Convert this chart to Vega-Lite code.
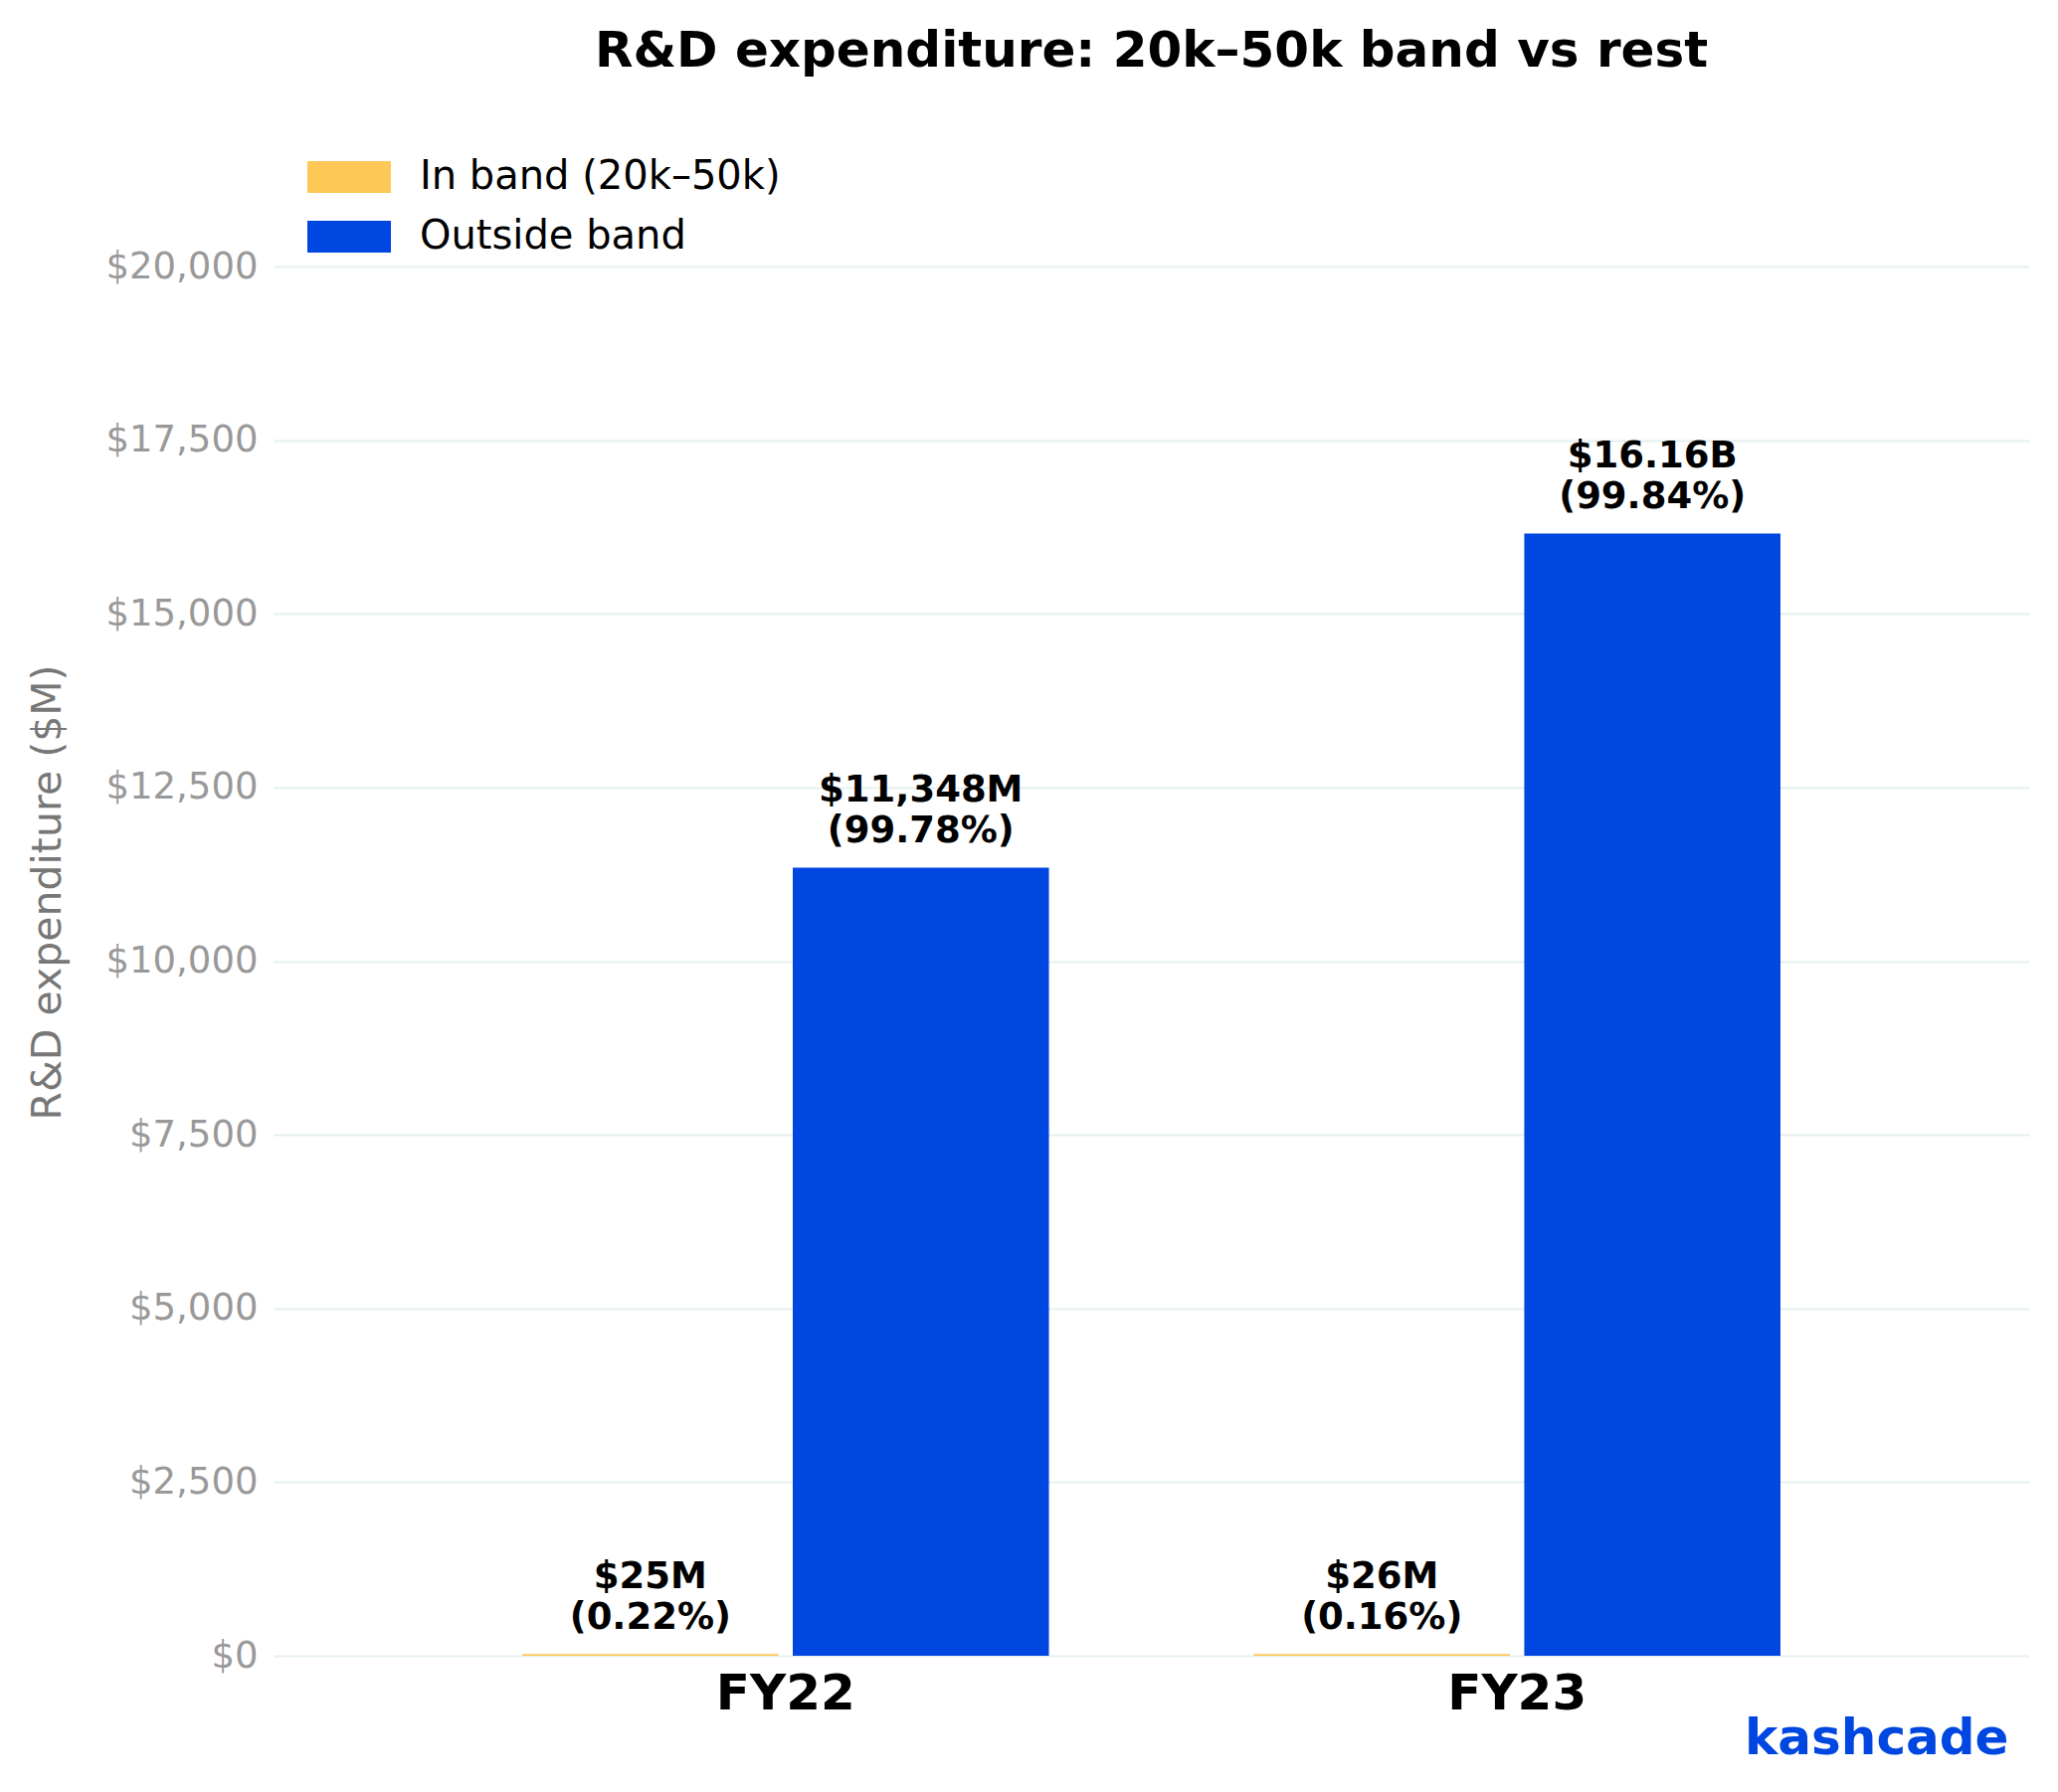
{
  "$schema": "https://vega.github.io/schema/vega-lite/v6.json",
  "width": 1765,
  "height": 1536,
  "autosize": {"type": "none"},
  "padding": {"left": 275, "top": 129, "right": 29, "bottom": 137},
  "background": "white",
  "title": {
    "text": "R&D expenditure: 20k–50k band vs rest",
    "fontSize": 50,
    "fontWeight": "bold",
    "color": "black",
    "anchor": "middle",
    "baseline": "alphabetic",
    "offset": 12
  },
  "data": {
    "values": [
      {"year": "FY22", "band": "In band (20k–50k)", "value": 25, "label": "$25M\n(0.22%)"},
      {"year": "FY22", "band": "Outside band", "value": 11348, "label": "$11,348M\n(99.78%)"},
      {"year": "FY23", "band": "In band (20k–50k)", "value": 26, "label": "$26M\n(0.16%)"},
      {"year": "FY23", "band": "Outside band", "value": 16160, "label": "$16.16B\n(99.84%)"}
    ]
  },
  "encoding": {
    "x": {
      "field": "year",
      "type": "nominal",
      "scale": {"paddingInner": 0.28, "paddingOuter": 0.34},
      "axis": {
        "labelAngle": 0,
        "labelFontSize": 50,
        "labelFontWeight": "bold",
        "labelColor": "black",
        "labelPadding": 13,
        "domain": false,
        "ticks": false,
        "tickSize": 0,
        "title": "kashcade",
        "titleFontSize": 50,
        "titleFontWeight": "bold",
        "titleColor": "#0046E0",
        "titleAlign": "right",
        "titleBaseline": "alphabetic",
        "titleX": 1744,
        "titleY": 98
      }
    },
    "xOffset": {
      "field": "band",
      "type": "nominal",
      "sort": ["In band (20k–50k)", "Outside band"],
      "scale": {"paddingInner": 0.053, "paddingOuter": 0}
    },
    "y": {
      "field": "value",
      "type": "quantitative",
      "scale": {"domain": [0, 21993], "nice": false},
      "axis": {
        "values": [0, 2500, 5000, 7500, 10000, 12500, 15000, 17500, 20000],
        "format": "$,.0f",
        "labelFontSize": 37,
        "labelColor": "#999999",
        "labelPadding": 16,
        "domain": false,
        "ticks": false,
        "tickSize": 0,
        "gridColor": "#E6EFF0",
        "gridWidth": 2,
        "title": "R&D expenditure ($M)",
        "titleFontSize": 41,
        "titleFontWeight": "normal",
        "titleColor": "#777777",
        "titlePadding": 36
      }
    }
  },
  "layer": [
    {
      "mark": {"type": "bar"},
      "encoding": {
        "color": {
          "field": "band",
          "type": "nominal",
          "scale": {
            "domain": ["In band (20k–50k)", "Outside band"],
            "range": ["#FEC857", "#0046E0"]
          },
          "legend": {
            "title": null,
            "orient": "none",
            "legendX": 56,
            "legendY": 29,
            "padding": 0,
            "symbolType": "M-2.625,-1H2.625V1H-2.625Z",
            "symbolSize": 1024,
            "symbolStrokeWidth": 0,
            "symbolOpacity": 1,
            "labelFontSize": 40,
            "labelColor": "black",
            "labelOffset": 51,
            "labelLimit": 0,
            "rowPadding": 20
          }
        }
      }
    },
    {
      "mark": {
        "type": "text",
        "fontSize": 37,
        "fontWeight": "bold",
        "color": "black",
        "baseline": "bottom",
        "lineBreak": "\n",
        "lineHeight": 41,
        "dy": -58
      },
      "encoding": {
        "text": {"field": "label"}
      }
    }
  ],
  "config": {
    "font": "DejaVu Sans",
    "view": {"stroke": null}
  }
}
